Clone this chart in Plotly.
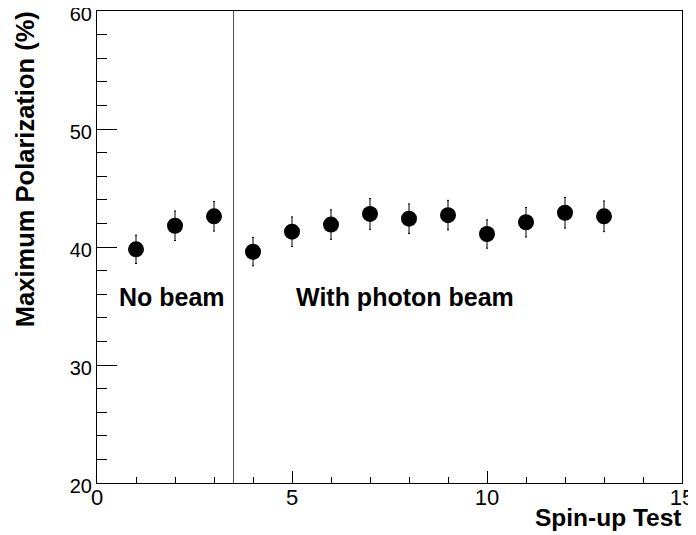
import plotly.graph_objects as go

test_no = [1, 2, 3, 4, 5, 6, 7, 8, 9, 10, 11, 12, 13]
polarization = [39.8, 41.8, 42.6, 39.6, 41.3, 41.9, 42.8, 42.4, 42.7, 41.1, 42.1, 42.9, 42.6]
pol_err = [1.2, 1.25, 1.25, 1.2, 1.25, 1.25, 1.3, 1.25, 1.25, 1.2, 1.25, 1.3, 1.3]
divider_x = 3.5
x_range = [0, 15]
y_range = [20, 60]

FONT = "Liberation Sans, Arial, Helvetica, sans-serif"

fig = go.Figure()
fig.add_trace(go.Scatter(
    x=test_no, y=polarization, mode="markers",
    marker=dict(color="black", size=16, symbol="circle"),
    error_y=dict(type="data", array=pol_err, visible=True, color="black",
                 thickness=1, width=1),
    showlegend=False,
))

fig.add_shape(type="line", x0=divider_x, x1=divider_x, y0=y_range[0], y1=y_range[1],
              xref="x", yref="y", line=dict(color="#555555", width=1))

fig.add_annotation(text="<b>No beam</b>", x=1.93, y=35.75, xref="x", yref="y",
                   showarrow=False, font=dict(size=25, color="black", family=FONT))
fig.add_annotation(text="<b>With photon beam</b>", x=7.9, y=35.75, xref="x", yref="y",
                   showarrow=False, font=dict(size=25, color="black", family=FONT))

fig.add_annotation(text="<b>Spin-up Test</b>", x=1.004, y=-0.074, xref="paper", yref="paper",
                   xanchor="right", yanchor="middle", showarrow=False,
                   font=dict(size=24.5, color="black", family=FONT))
fig.add_annotation(text="<b>Maximum Polarization (%)</b>", x=-0.123, y=1.004,
                   xref="paper", yref="paper", xanchor="center", yanchor="top",
                   textangle=-90, showarrow=False,
                   font=dict(size=25.5, color="black", family=FONT))

fig.update_layout(
    width=688, height=527,
    margin=dict(l=89, r=14, t=3, b=52),
    paper_bgcolor="white", plot_bgcolor="white",
    font=dict(family=FONT, size=20, color="black"),
)
fig.update_xaxes(
    range=x_range, showgrid=False, zeroline=False, automargin=False,
    showline=True, linecolor="black", linewidth=1, mirror=True,
    ticks="inside", ticklen=12, tickcolor="black", dtick=5, tick0=0,
    minor=dict(ticks="inside", ticklen=6, dtick=1, tickcolor="black", showgrid=False),
    tickfont=dict(size=22, family=FONT), ticklabelstandoff=-5,
    ticklabeloverflow="allow",
)
fig.update_yaxes(
    range=y_range, showgrid=False, zeroline=False, automargin=False,
    showline=True, linecolor="black", linewidth=1, mirror=True,
    ticks="inside", ticklen=20, tickcolor="black", dtick=10, tick0=20,
    minor=dict(ticks="inside", ticklen=10, dtick=2, tickcolor="black", showgrid=False),
    tickfont=dict(size=20, family=FONT), ticklabelstandoff=0, ticklabelshift=3,
    ticklabeloverflow="allow",
)

fig.write_html("out.html")
